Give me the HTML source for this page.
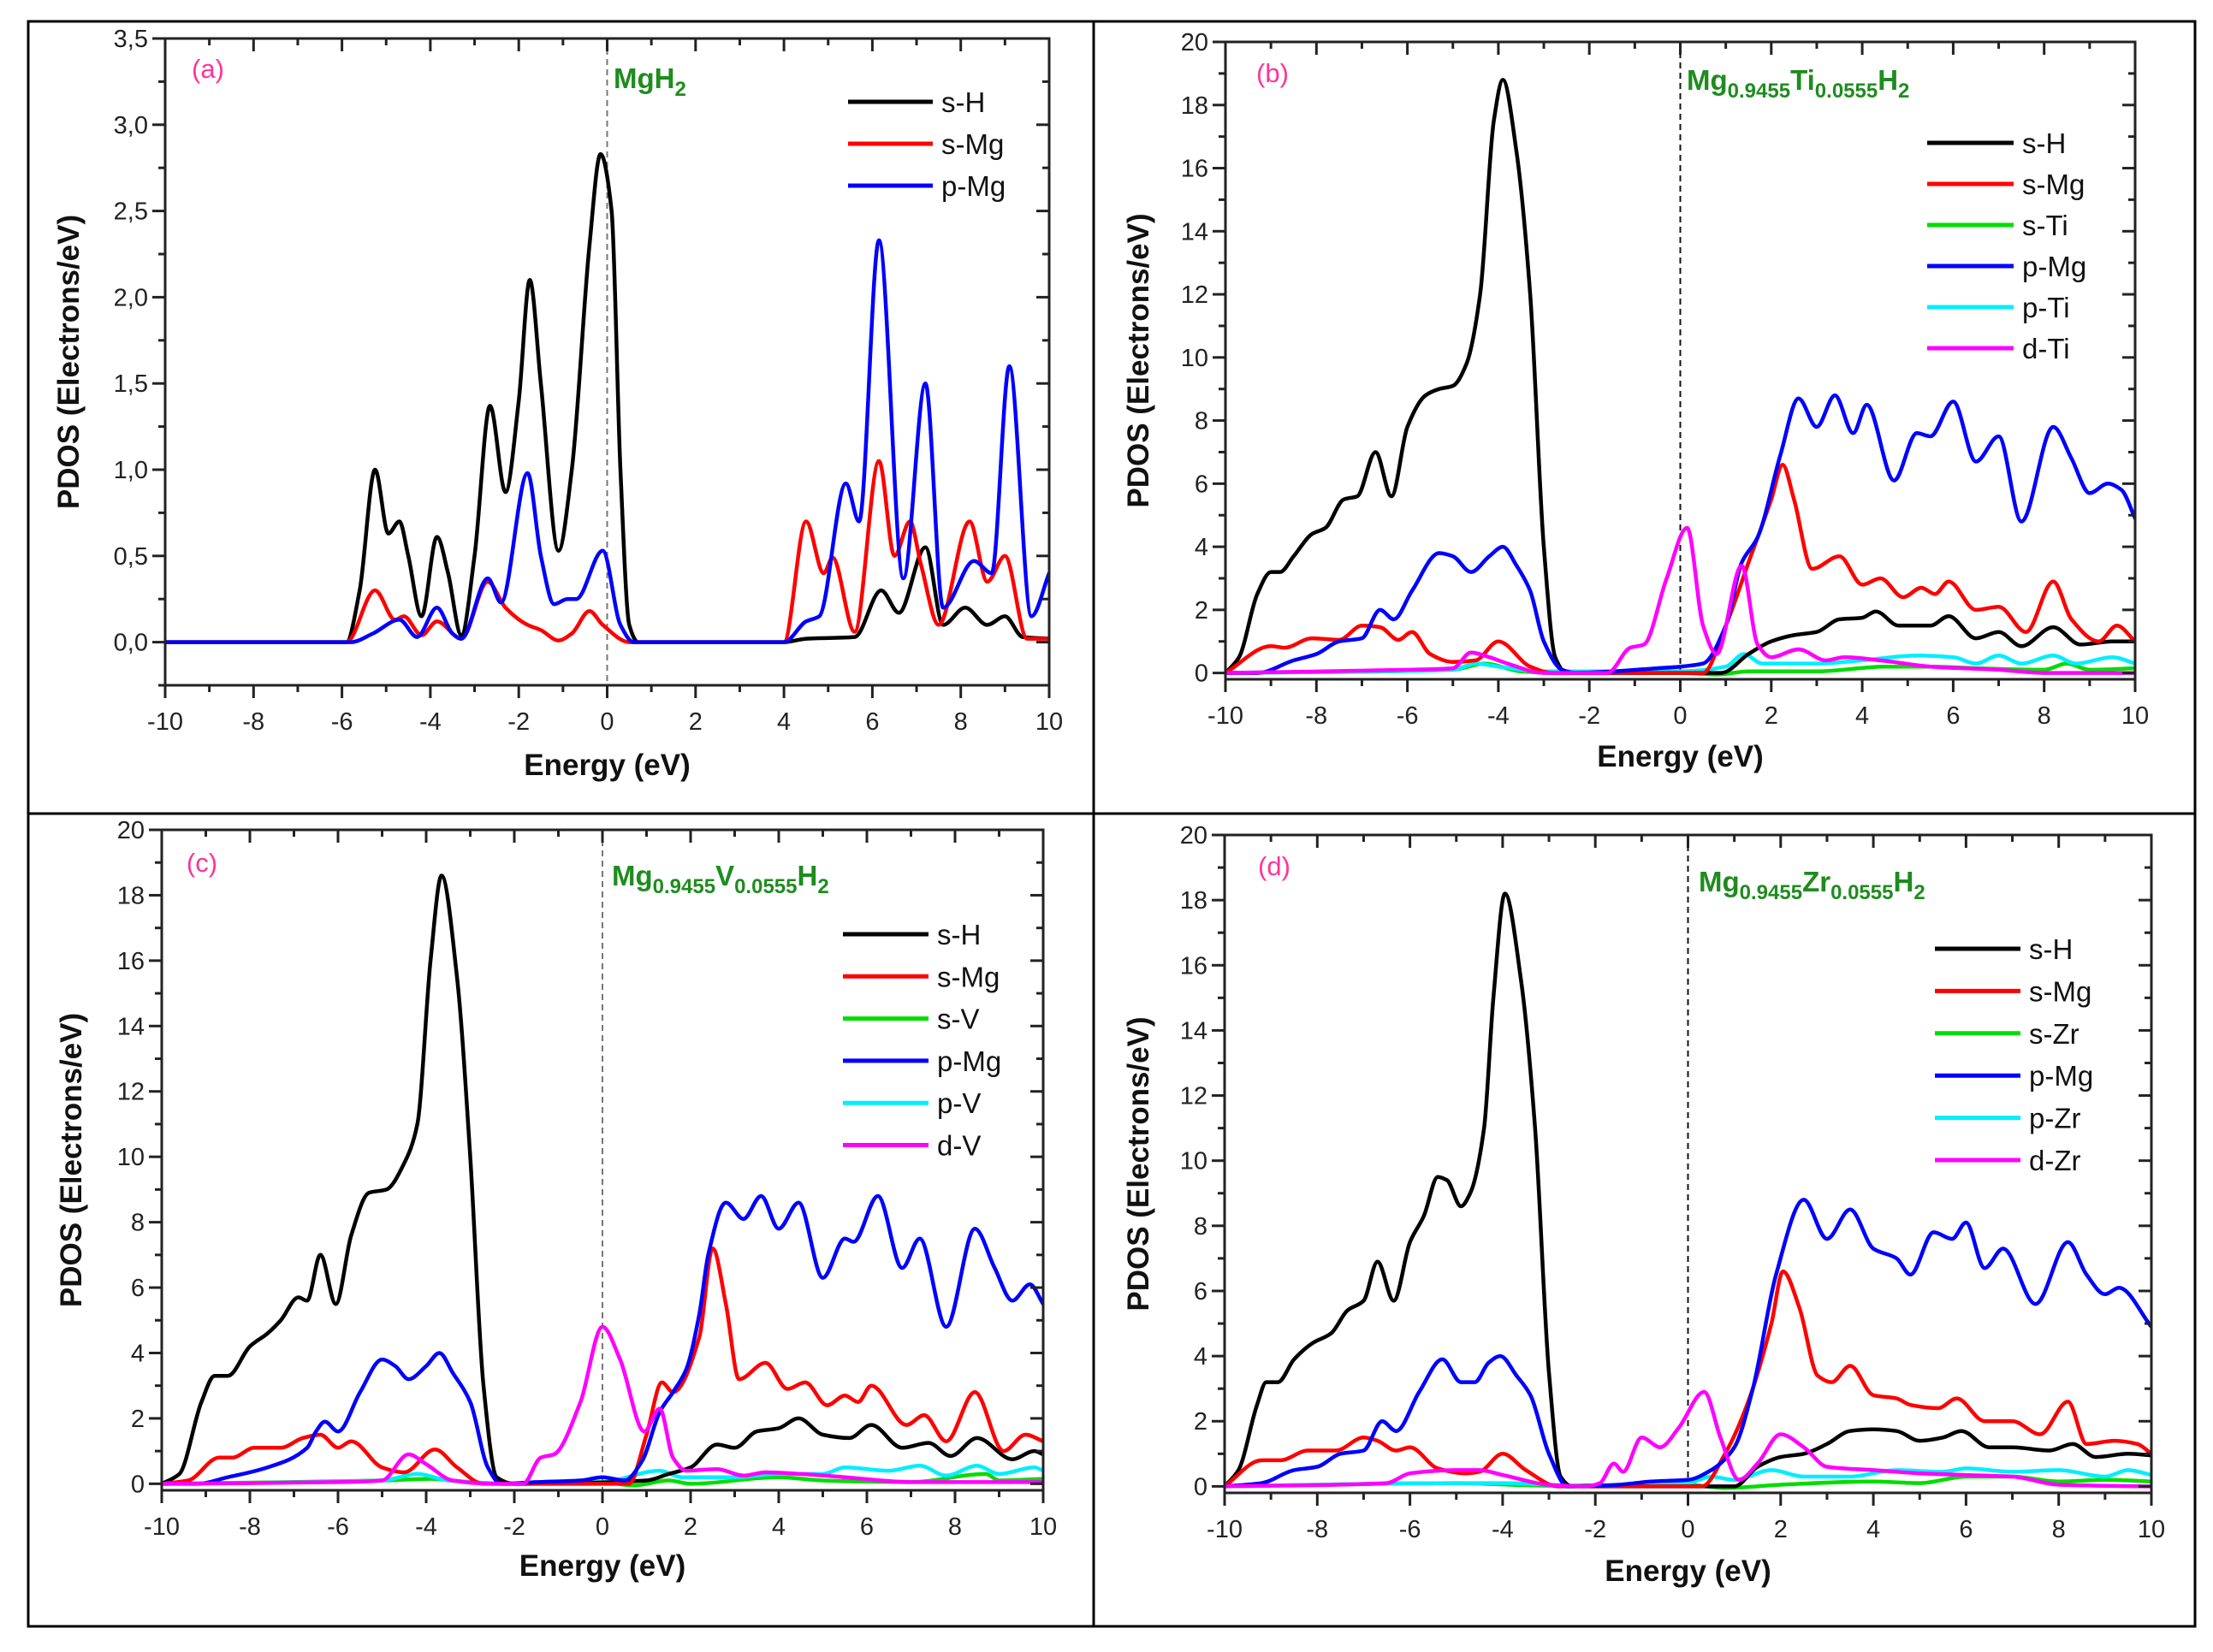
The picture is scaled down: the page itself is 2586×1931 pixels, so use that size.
<!DOCTYPE html>
<html><head><meta charset="utf-8">
<style>
html,body{margin:0;padding:0;background:#fff;}
svg{display:block;font-family:"Liberation Sans",sans-serif;}
</style></head>
<body>
<svg id="fig" width="2586" height="1931" viewBox="0 0 2586 1931" xmlns="http://www.w3.org/2000/svg">
<rect x="0" y="0" width="2586" height="1931" fill="#fff"/>
<rect x="33" y="25" width="2532" height="1876" fill="none" stroke="#000" stroke-width="3"/>
<line x1="1278" y1="25" x2="1278" y2="1901" stroke="#000" stroke-width="3"/>
<line x1="33" y1="951" x2="2565" y2="951" stroke="#000" stroke-width="3"/>
</svg>
<script>
// ---------- DATA ----------
const energyTicks = [-10,-8,-6,-4,-2,0,2,4,6,8,10];
const yTicksA = [0,0.5,1,1.5,2,2.5,3,3.5];
const yTickLabelsA = ["0,0","0,5","1,0","1,5","2,0","2,5","3,0","3,5"];
const yTicksBig = [0,2,4,6,8,10,12,14,16,18,20];

// Panel (a) MgH2  [energy, pdos]
const a_sH = [[-10,0],[-5.9,0],[-5.6,0.3],[-5.25,1.0],[-4.95,0.63],[-4.7,0.7],[-4.5,0.5],[-4.2,0.15],[-3.85,0.61],[-3.6,0.4],[-3.3,0.04],[-3.0,0.5],[-2.65,1.37],[-2.3,0.87],[-2.0,1.4],[-1.75,2.1],[-1.5,1.5],[-1.1,0.53],[-0.8,1.0],[-0.4,2.3],[-0.15,2.83],[0.1,2.5],[0.3,1.0],[0.5,0.1],[0.7,0],[4.0,0],[4.5,0.02],[5.6,0.03],[6.2,0.3],[6.6,0.17],[7.2,0.55],[7.6,0.1],[8.1,0.2],[8.6,0.1],[9.0,0.15],[9.4,0.03],[10,0.02]];
const a_sMg = [[-10,0],[-5.9,0],[-5.25,0.3],[-4.8,0.13],[-4.6,0.15],[-4.2,0.04],[-3.85,0.12],[-3.3,0.02],[-2.7,0.35],[-2.3,0.2],[-1.8,0.1],[-1.5,0.07],[-1.1,0.01],[-0.8,0.05],[-0.4,0.18],[-0.1,0.1],[0.5,0],[4.0,0],[4.5,0.7],[4.9,0.4],[5.1,0.49],[5.6,0.06],[6.15,1.05],[6.5,0.5],[6.85,0.7],[7.1,0.45],[7.5,0.1],[8.2,0.7],[8.6,0.35],[9.0,0.5],[9.5,0.02],[10,0.02]];
const a_pMg = [[-10,0],[-5.8,0],[-5.3,0.05],[-4.7,0.13],[-4.3,0.03],[-3.85,0.2],[-3.5,0.05],[-3.3,0.02],[-2.7,0.37],[-2.4,0.23],[-1.8,0.98],[-1.5,0.5],[-1.2,0.22],[-0.9,0.25],[-0.7,0.25],[-0.1,0.53],[0.3,0.1],[0.6,0],[4.0,0],[4.5,0.12],[4.8,0.15],[5.4,0.92],[5.7,0.7],[6.15,2.33],[6.7,0.37],[7.2,1.5],[7.6,0.2],[8.3,0.47],[8.7,0.4],[9.1,1.6],[9.6,0.15],[10,0.4]];

// Panel (b) Ti
const b_sH = [[-10,0],[-9.7,0.5],[-9.3,2.5],[-9.0,3.2],[-8.8,3.2],[-8.5,3.7],[-8.1,4.4],[-7.8,4.6],[-7.4,5.5],[-7.1,5.6],[-6.7,7.0],[-6.35,5.6],[-6.0,7.8],[-5.6,8.8],[-5.3,9.0],[-5.0,9.1],[-4.7,9.8],[-4.4,12],[-4.1,17.5],[-3.9,18.8],[-3.6,16.5],[-3.3,12],[-3.0,4],[-2.75,0.5],[-2.5,0],[0.9,0],[1.5,0.6],[2.0,1.0],[2.5,1.2],[3.0,1.3],[3.5,1.7],[4.0,1.75],[4.3,1.95],[4.8,1.5],[5.5,1.5],[5.9,1.8],[6.5,1.1],[7.0,1.3],[7.5,0.85],[8.2,1.45],[8.8,0.9],[9.5,1.0],[10,1.0]];
const b_sMg = [[-10,0],[-9.0,0.85],[-8.7,0.8],[-8.1,1.1],[-7.5,1.05],[-7.0,1.5],[-6.6,1.45],[-6.2,1.05],[-5.9,1.3],[-5.5,0.6],[-5.0,0.35],[-4.5,0.4],[-4.0,1.0],[-3.3,0.2],[-2.8,0],[0.5,0],[1.0,1.5],[1.5,3.5],[2.0,5.5],[2.25,6.6],[2.5,5.5],[2.9,3.3],[3.5,3.7],[4.0,2.8],[4.4,3.0],[4.9,2.4],[5.3,2.7],[5.6,2.5],[5.9,2.9],[6.5,2.0],[7.0,2.1],[7.6,1.3],[8.2,2.9],[8.6,1.7],[9.2,1.0],[9.6,1.5],[10,1.0]];
const b_sTi = [[-10,0],[-5,0.1],[-4.3,0.3],[-3.5,0.05],[-2.5,0],[0,0],[0.8,-0.05],[1.5,0.05],[3,0.05],[4.5,0.2],[5.5,0.2],[6.5,0.15],[8,0.1],[8.5,0.3],[9,0.1],[10,0.15]];
const b_pMg = [[-10,0],[-9.3,0],[-8.5,0.4],[-8.0,0.6],[-7.5,1.0],[-7.0,1.1],[-6.6,2.0],[-6.3,1.7],[-5.9,2.6],[-5.3,3.8],[-5.0,3.7],[-4.6,3.2],[-4.2,3.7],[-3.9,4.0],[-3.6,3.4],[-3.3,2.6],[-3.0,1.0],[-2.6,0.1],[-2.3,0],[-1.5,0.05],[-0.5,0.15],[0,0.2],[0.5,0.3],[1.0,1.5],[1.35,3.5],[1.7,4.3],[2.2,6.9],[2.6,8.7],[3.0,7.8],[3.4,8.8],[3.8,7.6],[4.1,8.5],[4.7,6.1],[5.2,7.6],[5.5,7.5],[6.0,8.6],[6.5,6.7],[7.0,7.5],[7.5,4.8],[8.2,7.8],[8.6,6.8],[9.0,5.7],[9.4,6.0],[9.7,5.8],[10,4.9]];
const b_pTi = [[-10,0],[-5,0.1],[-4.5,0.3],[-4,0.2],[-3,0.05],[0,0.05],[1.0,0.2],[1.4,0.6],[1.8,0.3],[3,0.3],[4,0.4],[5.2,0.55],[6,0.5],[6.5,0.3],[7,0.55],[7.5,0.3],[8.2,0.55],[8.7,0.3],[9.5,0.5],[10,0.3]];
const b_dTi = [[-10,0],[-6,0.1],[-5,0.15],[-4.6,0.65],[-4.2,0.5],[-3.8,0.3],[-3,0],[-1.6,0],[-1.1,0.8],[-0.8,0.9],[-0.3,3.0],[0.15,4.6],[0.5,1.5],[0.8,0.6],[1.35,3.4],[1.7,0.9],[2.0,0.5],[2.6,0.75],[3.2,0.4],[3.6,0.5],[4.4,0.4],[5.5,0.2],[7,0.1],[8,0],[10,0]];

// Panel (c) V
const c_sH = [[-10,0],[-9.6,0.3],[-9.1,2.5],[-8.8,3.3],[-8.5,3.3],[-8.0,4.2],[-7.6,4.6],[-7.3,5.0],[-6.9,5.7],[-6.7,5.6],[-6.4,7.0],[-6.05,5.5],[-5.7,7.6],[-5.3,8.9],[-4.9,9.0],[-4.5,9.8],[-4.2,11],[-3.9,16],[-3.65,18.6],[-3.3,15.5],[-3.0,10],[-2.7,3],[-2.4,0.2],[-2.0,0],[1.0,0.1],[1.5,0.3],[2.0,0.5],[2.6,1.2],[3.0,1.1],[3.5,1.6],[4.0,1.7],[4.45,2.0],[5.0,1.5],[5.6,1.4],[6.1,1.8],[6.8,1.1],[7.4,1.25],[7.9,0.85],[8.5,1.4],[9.3,0.75],[9.8,1.0],[10,0.9]];
const c_sMg = [[-10,0],[-9.4,0.1],[-8.7,0.8],[-8.4,0.8],[-7.9,1.1],[-7.3,1.1],[-6.8,1.4],[-6.4,1.5],[-6.0,1.1],[-5.7,1.3],[-5.0,0.5],[-4.5,0.35],[-3.8,1.05],[-3.3,0.5],[-2.7,0],[0.6,0],[1.0,1.5],[1.35,3.1],[1.6,2.8],[2.2,4.5],[2.5,7.2],[2.8,5.5],[3.1,3.2],[3.7,3.7],[4.2,2.9],[4.6,3.1],[5.1,2.4],[5.5,2.7],[5.8,2.5],[6.1,3.0],[6.9,1.8],[7.3,2.1],[7.8,1.3],[8.45,2.8],[9.1,1.0],[9.6,1.5],[10,1.3]];
const c_sV = [[-10,0],[-5,0.1],[-3.9,0.15],[-3,0.05],[-2,0],[0,0.05],[0.7,-0.05],[1.5,0.1],[2,0],[4,0.2],[5,0.1],[7,0.05],[8.7,0.3],[9,0.1],[10,0.15]];
const c_pMg = [[-10,0],[-9.2,0],[-8.5,0.2],[-7.6,0.5],[-6.7,1.1],[-6.5,1.6],[-6.3,1.9],[-6.0,1.6],[-5.5,2.8],[-5.0,3.8],[-4.7,3.6],[-4.4,3.2],[-4.0,3.6],[-3.7,4.0],[-3.4,3.4],[-3.0,2.5],[-2.6,0.5],[-2.3,0],[-1.5,0.05],[-0.5,0.1],[0,0.2],[0.5,0.1],[0.9,0.7],[1.3,2.2],[1.6,2.8],[1.9,3.5],[2.2,5.2],[2.4,7.0],[2.8,8.6],[3.2,8.1],[3.6,8.8],[4.0,7.8],[4.45,8.6],[5.0,6.3],[5.5,7.5],[5.7,7.4],[6.25,8.8],[6.8,6.6],[7.2,7.5],[7.8,4.8],[8.45,7.8],[8.9,6.6],[9.3,5.6],[9.7,6.1],[10,5.5]];
const c_pV = [[-10,0],[-5,0.1],[-4.2,0.3],[-3.5,0.1],[-2,0],[0,0.05],[1.3,0.4],[1.8,0.2],[3,0.2],[4,0.3],[5,0.3],[5.5,0.5],[6.5,0.4],[7.2,0.55],[7.8,0.25],[8.5,0.55],[9,0.3],[9.8,0.5],[10,0.4]];
const c_dV = [[-10,0],[-6,0.05],[-5,0.1],[-4.4,0.9],[-4.0,0.6],[-3.4,0.1],[-2.5,0],[-1.8,0],[-1.4,0.8],[-1.1,0.9],[-0.5,2.5],[0,4.8],[0.4,3.8],[0.95,1.6],[1.3,2.3],[1.6,0.8],[1.9,0.4],[2.6,0.45],[3.2,0.25],[3.7,0.35],[4.5,0.3],[5.5,0.2],[7,0.05],[10,0.05]];

// Panel (d) Zr
const d_sH = [[-10,0],[-9.7,0.5],[-9.3,2.5],[-9.1,3.2],[-8.85,3.2],[-8.5,3.9],[-8.1,4.4],[-7.7,4.7],[-7.35,5.4],[-7.0,5.7],[-6.7,6.9],[-6.35,5.7],[-6.0,7.5],[-5.7,8.3],[-5.4,9.5],[-5.2,9.4],[-4.9,8.6],[-4.7,9.0],[-4.4,11],[-4.2,15],[-3.95,18.2],[-3.6,15.5],[-3.3,11],[-3.0,3.5],[-2.75,0.3],[-2.5,0],[1.0,0],[1.5,0.6],[2.0,0.9],[2.5,1.0],[3.0,1.3],[3.5,1.7],[4.0,1.75],[4.5,1.7],[5.0,1.4],[5.5,1.5],[5.9,1.7],[6.5,1.2],[7.0,1.2],[7.8,1.1],[8.3,1.3],[8.8,0.9],[9.5,1.0],[10,0.95]];
const d_sMg = [[-10,0],[-9.2,0.8],[-8.8,0.8],[-8.2,1.1],[-7.6,1.1],[-7.0,1.5],[-6.7,1.4],[-6.3,1.1],[-6.0,1.2],[-5.4,0.55],[-4.8,0.4],[-4.5,0.45],[-4.0,1.0],[-3.5,0.5],[-2.8,0],[0.3,0],[0.8,1.0],[1.3,2.6],[1.8,5.0],[2.05,6.6],[2.4,5.5],[2.8,3.4],[3.1,3.2],[3.5,3.7],[4.0,2.8],[4.5,2.7],[4.8,2.5],[5.4,2.4],[5.8,2.7],[6.4,2.0],[7.0,2.0],[7.6,1.6],[8.2,2.6],[8.6,1.3],[9.2,1.4],[9.7,1.3],[10,1.0]];
const d_sZr = [[-10,0],[-5,0.1],[-3,0.02],[0,0.05],[0.8,-0.05],[2,0.05],[4,0.15],[5,0.1],[6,0.3],[7,0.3],[8,0.15],[9,0.2],[10,0.15]];
const d_pMg = [[-10,0],[-9.2,0.1],[-8.5,0.5],[-8.0,0.6],[-7.5,1.0],[-7.0,1.1],[-6.6,2.0],[-6.3,1.7],[-5.8,2.9],[-5.3,3.9],[-4.9,3.2],[-4.6,3.2],[-4.3,3.8],[-4.05,4.0],[-3.7,3.4],[-3.4,2.8],[-3.0,1.0],[-2.6,0],[-1.5,0.05],[-0.8,0.15],[0,0.2],[0.5,0.5],[1.0,1.2],[1.4,3.0],[1.9,6.5],[2.5,8.8],[3.0,7.6],[3.5,8.5],[4.0,7.3],[4.5,7.0],[4.8,6.5],[5.3,7.8],[5.7,7.6],[6.0,8.1],[6.4,6.7],[6.8,7.3],[7.5,5.6],[8.2,7.5],[8.6,6.5],[9.0,5.9],[9.3,6.1],[10,4.9]];
const d_pZr = [[-10,0],[-5,0.1],[-4,0.1],[-2,0],[0,0.1],[0.5,0.3],[1.0,0.2],[1.8,0.5],[2.5,0.3],[3.5,0.3],[4.5,0.5],[5.5,0.45],[6,0.55],[7,0.45],[8,0.5],[9,0.3],[9.5,0.5],[10,0.35]];
const d_dZr = [[-10,0],[-6.5,0.1],[-6,0.4],[-5,0.5],[-4.5,0.5],[-4,0.35],[-3,0.05],[-2.2,0],[-1.9,0.1],[-1.6,0.7],[-1.4,0.45],[-1.0,1.5],[-0.6,1.2],[-0.2,1.8],[0.35,2.9],[0.7,1.5],[1.1,0.2],[1.5,0.7],[2.0,1.6],[2.5,1.2],[3.0,0.6],[4,0.5],[5,0.4],[6,0.35],[7,0.3],[8,0.05],[10,0]];

const legendA = ["s-H","s-Mg","p-Mg"];
const legendB = ["s-H","s-Mg","s-Ti","p-Mg","p-Ti","d-Ti"];
const legendC = ["s-H","s-Mg","s-V","p-Mg","p-V","d-V"];
const legendD = ["s-H","s-Mg","s-Zr","p-Mg","p-Zr","d-Zr"];

// ---------- RENDER ----------
const NS = "http://www.w3.org/2000/svg";
const svg = document.getElementById("fig");
function mk(tag, attrs, parent){
  const e = document.createElementNS(NS, tag);
  for (const k in attrs) e.setAttribute(k, attrs[k]);
  (parent||svg).appendChild(e);
  return e;
}
const COL = {"s-H":"#000","s-Mg":"#ff0000","p-Mg":"#0000ff","s-X":"#00dd00","p-X":"#00eeff","d-X":"#ff00ff"};
function colorFor(name){
  if (COL[name]) return COL[name];
  return COL[name[0]+"-X"];
}
// monotone cubic (Fritsch-Carlson) - no overshoot
function smoothPath(pts){
  const n = pts.length;
  const dx=[], m=[], t=new Array(n);
  for (let i=0;i<n-1;i++){ dx[i]=pts[i+1][0]-pts[i][0]; m[i]=(pts[i+1][1]-pts[i][1])/dx[i]; }
  t[0]=m[0]; t[n-1]=m[n-2];
  for (let i=1;i<n-1;i++){
    if (m[i-1]*m[i]<=0) t[i]=0;
    else { const w1=2*dx[i]+dx[i-1], w2=dx[i]+2*dx[i-1]; t[i]=(w1+w2)/(w1/m[i-1]+w2/m[i]); }
  }
  let d = "M"+pts[0][0].toFixed(1)+","+pts[0][1].toFixed(1);
  for (let i=0;i<n-1;i++){
    const h=dx[i]/3;
    d+=" C"+(pts[i][0]+h).toFixed(1)+","+(pts[i][1]+t[i]*h).toFixed(1)+" "+(pts[i+1][0]-h).toFixed(1)+","+(pts[i+1][1]-t[i+1]*h).toFixed(1)+" "+pts[i+1][0].toFixed(1)+","+pts[i+1][1].toFixed(1);
  }
  return d;
}

function panel(cfg){
  const g = mk("g", {});
  
  
  const L=cfg.L,R=cfg.R,T=cfg.T,B=cfg.B;
  const xs = e => L + (e+10)/20*(R-L);
  const ys = v => B - (v-cfg.ymin)/(cfg.ymax-cfg.ymin)*(B-T);
  const clip = "clip-"+cfg.id;
  const cp = mk("clipPath",{id:clip},g);
  mk("rect",{x:L,y:T,width:R-L,height:B-T},cp);

  const zl = mk("line",{x1:xs(0),x2:xs(0),y1:T,y2:B,stroke:cfg.dashCol,"stroke-width":2,"stroke-dasharray":"7,5"},g);
  
  

  const sg = mk("g",{"clip-path":"url(#"+clip+")"},g);
  cfg.series.forEach(s=>{
    const pts = s.data.map(p=>[xs(p[0]), ys(p[1])]);
    const p = mk("path",{d:smoothPath(pts),fill:"none",stroke:colorFor(s.name),"stroke-width":4.5,"stroke-linejoin":"round","stroke-linecap":"round"},sg);
    
    
  });

  const fr = mk("rect",{x:L,y:T,width:R-L,height:B-T,fill:"none",stroke:"#222","stroke-width":3},g);
  
  

  for (let e=-10;e<=10;e++){
    const major = e%2===0;
    const len = major?15:8;
    const x = xs(e);
    mk("line",{x1:x,x2:x,y1:B,y2:B+len,stroke:"#222","stroke-width":3},g);
    mk("line",{x1:x,x2:x,y1:T,y2:T+len,stroke:"#222","stroke-width":3},g);
  }
  energyTicks.forEach(e=>{
    const t = mk("text",{x:xs(e),y:B+52,"font-size":29,"text-anchor":"middle",fill:"#222"},g);
    t.textContent = String(e);
    
    
  });
  const minorStep = cfg.yStep/2;
  for (let v=cfg.yTicks[0]; v<=cfg.ymax+1e-9; v+=minorStep){
    const major = Math.abs((v/cfg.yStep)-Math.round(v/cfg.yStep))<1e-6;
    const len = major?15:8;
    const y = ys(v);
    mk("line",{x1:L-len,x2:L,y1:y,y2:y,stroke:"#222","stroke-width":3},g);
    mk("line",{x1:R-len,x2:R,y1:y,y2:y,stroke:"#222","stroke-width":3},g);
  }
  if (-minorStep >= cfg.ymin - 1e-9){
    const y = ys(-minorStep);
    mk("line",{x1:L-8,x2:L,y1:y,y2:y,stroke:"#222","stroke-width":3},g);
  }
  cfg.yTicks.forEach((v,i)=>{
    const t = mk("text",{x:L-20,y:ys(v)+10,"font-size":29,"text-anchor":"end",fill:"#222"},g);
    t.textContent = cfg.yLabels ? cfg.yLabels[i] : String(v);
    
    
  });

  const xt = mk("text",{x:(L+R)/2,y:cfg.xTitleY,"font-size":35,"font-weight":"bold","text-anchor":"middle",fill:"#111"},g);
  xt.textContent = "Energy (eV)";
  
  
  const yc = (T+B)/2;
  const yt = mk("text",{x:cfg.yTitleX,y:yc,"font-size":35,"font-weight":"bold","text-anchor":"middle",fill:"#111",transform:"rotate(-90 "+cfg.yTitleX+" "+yc+")",dy:"12"},g);
  yt.textContent = "PDOS (Electrons/eV)";
  
  

  const tg = mk("text",{x:cfg.tagX,y:cfg.tagY+10,"font-size":31,"text-anchor":"middle",fill:"#ff3399"},g);
  tg.textContent = "("+cfg.id+")";
  
  

  const f = mk("text",{x:cfg.fX,y:cfg.fY+10,"font-size":33,"font-weight":"bold",fill:"#1e8c1e"},g);
  
  
  cfg.formula.forEach(part=>{
    const ts = mk("tspan",{},f);
    if (part[1]) { ts.setAttribute("font-size","24"); ts.setAttribute("dy","9"); }
    else if (part[2]) { ts.setAttribute("dy","-9"); }
    ts.textContent = part[0];
  });

  const lg = mk("g",{},g);
  
  
  cfg.legend.forEach((name,i)=>{
    const y = cfg.legY[0] + i*cfg.legY[1];
    const ln = mk("line",{x1:cfg.legX1,x2:cfg.legX2,y1:y,y2:y,stroke:colorFor(name),"stroke-width":5},lg);
    
    
    const tx = mk("text",{x:cfg.legX2+10,y:y+12,"font-size":33,fill:"#111"},lg);
    tx.textContent = name;
    
    
  });
}

panel({id:"a",L:193,R:1226,T:45,B:801,ymin:-0.25,ymax:3.5,yTicks:yTicksA,yLabels:yTickLabelsA,yStep:0.5,
  dashCol:"#777",xTitleY:906,yTitleX:80,tagX:243,tagY:81,fX:717,fY:93,
  formula:[["MgH"],["2",1]],
  legend:legendA,legX1:991,legX2:1090,legY:[119,49],
  series:[{name:"s-H",data:a_sH},{name:"s-Mg",data:a_sMg},{name:"p-Mg",data:a_pMg}]});

panel({id:"b",L:1432,R:2495,T:49,B:794,ymin:-0.2,ymax:20,yTicks:yTicksBig,yStep:2,
  dashCol:"#111",xTitleY:896,yTitleX:1330,tagX:1487,tagY:86,fX:1971,fY:95,
  formula:[["Mg"],["0.9455",1],["Ti",0,1],["0.0555",1],["H",0,1],["2",1]],
  legend:legendB,legX1:2252,legX2:2353,legY:[167,48],
  series:[{name:"s-Ti",data:b_sTi},{name:"p-Ti",data:b_pTi},{name:"s-H",data:b_sH},{name:"s-Mg",data:b_sMg},{name:"p-Mg",data:b_pMg},{name:"d-Ti",data:b_dTi}]});

panel({id:"c",L:189,R:1219,T:970,B:1742,ymin:-0.2,ymax:20,yTicks:yTicksBig,yStep:2,
  dashCol:"#777",xTitleY:1842,yTitleX:83,tagX:236,tagY:1009,fX:715,fY:1025,
  formula:[["Mg"],["0.9455",1],["V",0,1],["0.0555",1],["H",0,1],["2",1]],
  legend:legendC,legX1:985,legX2:1085,legY:[1092,49.3],
  series:[{name:"s-V",data:c_sV},{name:"p-V",data:c_pV},{name:"s-H",data:c_sH},{name:"s-Mg",data:c_sMg},{name:"p-Mg",data:c_pMg},{name:"d-V",data:c_dV}]});

panel({id:"d",L:1431,R:2514,T:976,B:1745,ymin:-0.2,ymax:20,yTicks:yTicksBig,yStep:2,
  dashCol:"#111",xTitleY:1848,yTitleX:1330,tagX:1489,tagY:1013,fX:1985,fY:1032,
  formula:[["Mg"],["0.9455",1],["Zr",0,1],["0.0555",1],["H",0,1],["2",1]],
  legend:legendD,legX1:2261,legX2:2361,legY:[1109,49.4],
  series:[{name:"s-Zr",data:d_sZr},{name:"p-Zr",data:d_pZr},{name:"s-H",data:d_sH},{name:"s-Mg",data:d_sMg},{name:"p-Mg",data:d_pMg},{name:"d-Zr",data:d_dZr}]});
</script>
</body></html>
